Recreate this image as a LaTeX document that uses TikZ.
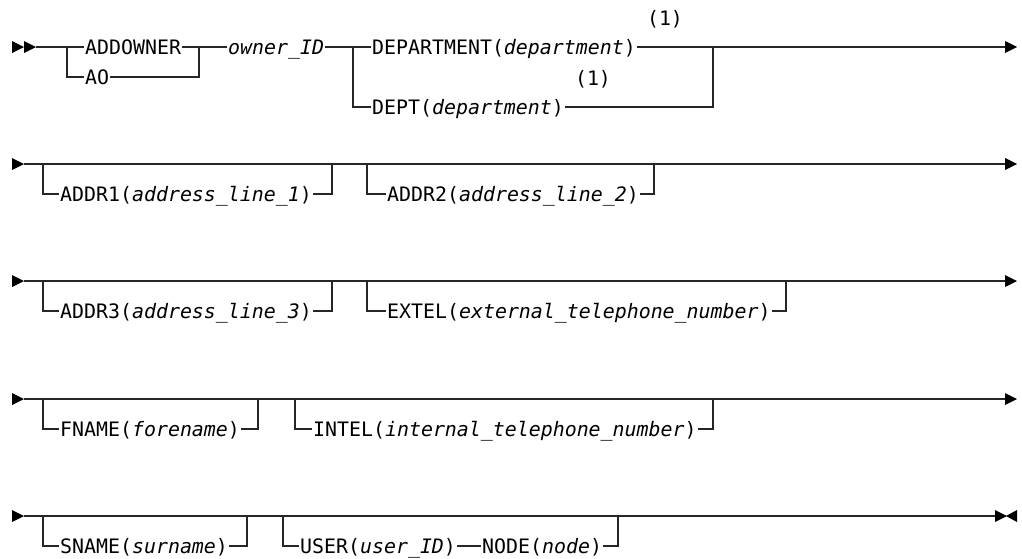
\documentclass[tikz,border=0pt]{standalone}
\usepackage{fontspec}
\setmonofont{DejaVu Sans Mono}
\usepackage{tikz}

\begin{document}
\begin{tikzpicture}[
  x=1pt, y=-1pt,
  rail/.style={draw=black!85, line width=1.4pt},
  kw/.style={anchor=west, inner xsep=1pt, inner ysep=0pt,
    font=\ttfamily\fontsize{19.9}{24}\selectfont, text height=14.5pt, text depth=0pt},
  note/.style={inner sep=0pt, font=\ttfamily\fontsize{19.9}{24}\selectfont},
  rtip/.pic={\fill[black] (0,-6) -- (12,0) -- (0,6) -- cycle;},
  ltip/.pic={\fill[black] (11,-6) -- (0,0) -- (11,6) -- cycle;}]
  \useasboundingbox (0,0) rectangle (1022,558);
  % row 1
  \pic at (12,47) {rtip};
  \pic at (24,47) {rtip};
  \coordinate (a0) at (36,47);
  \coordinate (a1) at (67,47);
  \coordinate (a2) at (199,47);
  \coordinate (a4) at (353,47);
  \coordinate (a5) at (713,47);
  \coordinate (a9) at (1005,47);
  \node[kw] (addowner) at (84,47) {ADDOWNER};
  \node[kw] (ao) at (84,77) {AO};
  \node[kw] (owner) at (227,47) {\textit{owner\_ID}};
  \node[kw] (deptlong) at (371,47) {DEPARTMENT(\textit{department})};
  \node[kw] (deptshort) at (371,107) {DEPT(\textit{department})};
  \node[note] (n1) at (665,19) {(1)};
  \node[note] (n2) at (593,79) {(1)};
  \draw[rail] (a0) -- (a1) -- (addowner) -- (a2) -- (owner) -- (a4) -- (deptlong) -- (a5) -- (a9);
  \draw[rail] (a1) |- (ao);
  \draw[rail] (ao) -| (a2);
  \draw[rail] (a4) |- (deptshort);
  \draw[rail] (deptshort) -| (a5);
  \pic at (a9) {rtip};
  % row 2
  \pic at (12,164) {rtip};
  \coordinate (b0) at (24,164);
  \coordinate (b1) at (43,164);
  \coordinate (b2) at (332,164);
  \coordinate (b3) at (367,164);
  \coordinate (b4) at (654,164);
  \coordinate (b9) at (1005,164);
  \node[kw] (addr1) at (59,194) {ADDR1(\textit{address\_line\_1})};
  \node[kw] (addr2) at (386,194) {ADDR2(\textit{address\_line\_2})};
  \draw[rail] (b0) -- (b9);
  \draw[rail] (b1) |- (addr1) -| (b2);
  \draw[rail] (b3) |- (addr2) -| (b4);
  \pic at (b9) {rtip};
  % row 3
  \pic at (12,281) {rtip};
  \coordinate (c0) at (24,281);
  \coordinate (c1) at (43,281);
  \coordinate (c2) at (332,281);
  \coordinate (c3) at (367,281);
  \coordinate (c4) at (786,281);
  \coordinate (c9) at (1005,281);
  \node[kw] (addr3) at (59,311) {ADDR3(\textit{address\_line\_3})};
  \node[kw] (extel) at (386,311) {EXTEL(\textit{external\_telephone\_number})};
  \draw[rail] (c0) -- (c9);
  \draw[rail] (c1) |- (addr3) -| (c2);
  \draw[rail] (c3) |- (extel) -| (c4);
  \pic at (c9) {rtip};
  % row 4
  \pic at (12,399) {rtip};
  \coordinate (d0) at (24,399);
  \coordinate (d1) at (43,399);
  \coordinate (d2) at (258,399);
  \coordinate (d3) at (295,399);
  \coordinate (d4) at (713,399);
  \coordinate (d9) at (1005,399);
  \node[kw] (fname) at (59,429) {FNAME(\textit{forename})};
  \node[kw] (intel) at (312,429) {INTEL(\textit{internal\_telephone\_number})};
  \draw[rail] (d0) -- (d9);
  \draw[rail] (d1) |- (fname) -| (d2);
  \draw[rail] (d3) |- (intel) -| (d4);
  \pic at (d9) {rtip};
  % row 5
  \pic at (12,516) {rtip};
  \coordinate (e0) at (24,516);
  \coordinate (e1) at (43,516);
  \coordinate (e2) at (247,516);
  \coordinate (e3) at (283,516);
  \coordinate (e4) at (618,516);
  \coordinate (e9) at (995,516);
  \node[kw] (sname) at (59,546) {SNAME(\textit{surname})};
  \node[kw] (user) at (299,546) {USER(\textit{user\_ID})};
  \node[kw] (node) at (481,546) {NODE(\textit{node})};
  \draw[rail] (e0) -- (e9);
  \draw[rail] (e1) |- (sname) -| (e2);
  \draw[rail] (e3) |- (user) -- (node) -| (e4);
  \pic at (e9) {rtip};
  \pic at (1006,516) {ltip};
\end{tikzpicture}
\end{document}
